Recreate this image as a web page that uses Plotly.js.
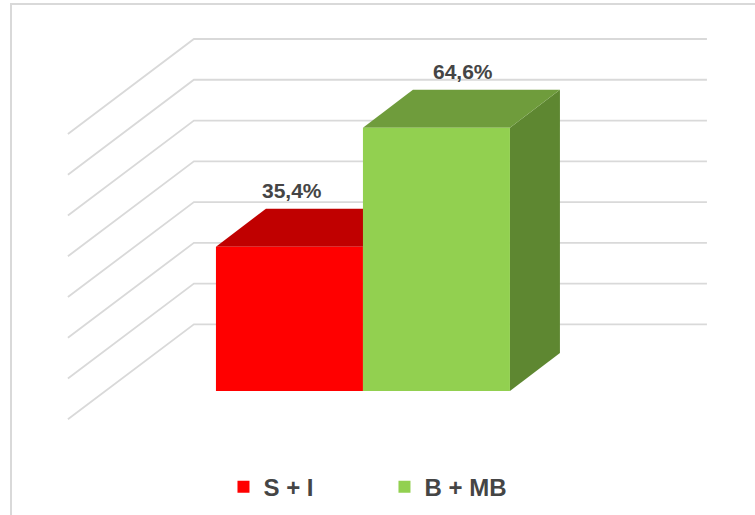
<!DOCTYPE html>
<html>
<head>
<meta charset="utf-8">
<script src="https://cdn.plot.ly/plotly-3.0.1.min.js"></script>
<style>html,body{margin:0;padding:0;background:#fff;}#chart{width:755px;height:515px;}</style>
</head>
<body>
<div id="chart"></div>
<script>
// ---- data ----
const categories = ["S + I", "B + MB"];
const values = [35.4, 64.6];
const valueLabels = ["35,4%", "64,6%"];
const gridValues = [0, 10, 20, 30, 40, 50, 60, 70];

// ---- style ----
const frontColors = ["#FF0000", "#92D050"];
const topColors = ["#C00000", "#6F9C3C"];
const sideColors = ["#A00000", "#5E8731"];
const gridColor = "#D9D9D9";
const textColor = "#454545";
const labelDx = [0.02, 0.18];

// 3D projection constants (axis units)
const depthDx = 0.340, depthDy = 9.32;      // bar depth
const backOff = 16.36;                       // back wall floor height
const xBackL = -0.65, xBackR = 2.84;         // back wall extent
const sideDx = -0.857, sideDy = -23.31;      // side wall depth

const shapes = [];
// chart area border
shapes.push({type: "path", xref: "paper", yref: "paper",
  path: "M0.0146,-0.02 L0.0146,0.9922 L1.02,0.9922",
  line: {color: gridColor, width: 2}, layer: "below"});
// wall gridlines
gridValues.forEach(g => {
  const yb = g + backOff;
  shapes.push({type: "path", xref: "x", yref: "y", layer: "below",
    path: `M${xBackR},${yb} L${xBackL},${yb} L${xBackL + sideDx},${yb + sideDy}`,
    line: {color: gridColor, width: 1.8}});
});
// top and side faces of bars
values.forEach((v, i) => {
  const l = i - 0.5, r = i + 0.5;
  shapes.push({type: "path", xref: "x", yref: "y", layer: "below",
    path: `M${r},0 L${r},${v} L${r + depthDx},${v + depthDy} L${r + depthDx},${depthDy} Z`,
    fillcolor: sideColors[i], line: {width: 0}});
  shapes.push({type: "path", xref: "x", yref: "y", layer: "below",
    path: `M${l},${v} L${r},${v} L${r + depthDx},${v + depthDy} L${l + depthDx},${v + depthDy} Z`,
    fillcolor: topColors[i], line: {width: 0}});
});

const traces = categories.map((c, i) => ({
  type: "bar", name: c, x: [c], y: [values[i]], width: 1,
  marker: {color: frontColors[i], line: {width: 0}},
  hoverinfo: "skip"
}));

const annotations = values.map((v, i) => ({
  xref: "x", yref: "y", x: i + labelDx[i], y: v + 13.7,
  text: valueLabels[i], showarrow: false, xanchor: "center", yanchor: "middle",
  font: {family: "Liberation Sans, Arial, sans-serif", size: 21, color: textColor, weight: "bold"}
}));

const layout = {
  width: 755, height: 515,
  margin: {l: 0, r: 0, t: 0, b: 0},
  paper_bgcolor: "#ffffff", plot_bgcolor: "#ffffff",
  barmode: "overlay",
  xaxis: {type: "category", categoryarray: categories, categoryorder: "array",
    range: [-1.969, 3.167], visible: false, fixedrange: true},
  yaxis: {range: [-30.42, 95.93], visible: false, fixedrange: true},
  shapes: shapes,
  annotations: annotations,
  showlegend: true,
  legend: {orientation: "h", x: 0.296, xanchor: "left", y: 0.054, yanchor: "middle",
    font: {family: "Liberation Sans, Arial, sans-serif", size: 24, color: textColor, weight: "bold"},
    entrywidth: 116, entrywidthmode: "pixels", bgcolor: "rgba(0,0,0,0)"},
  hovermode: false
};

Plotly.newPlot("chart", traces, layout, {displayModeBar: false, staticPlot: true});
</script>
</body>
</html>
